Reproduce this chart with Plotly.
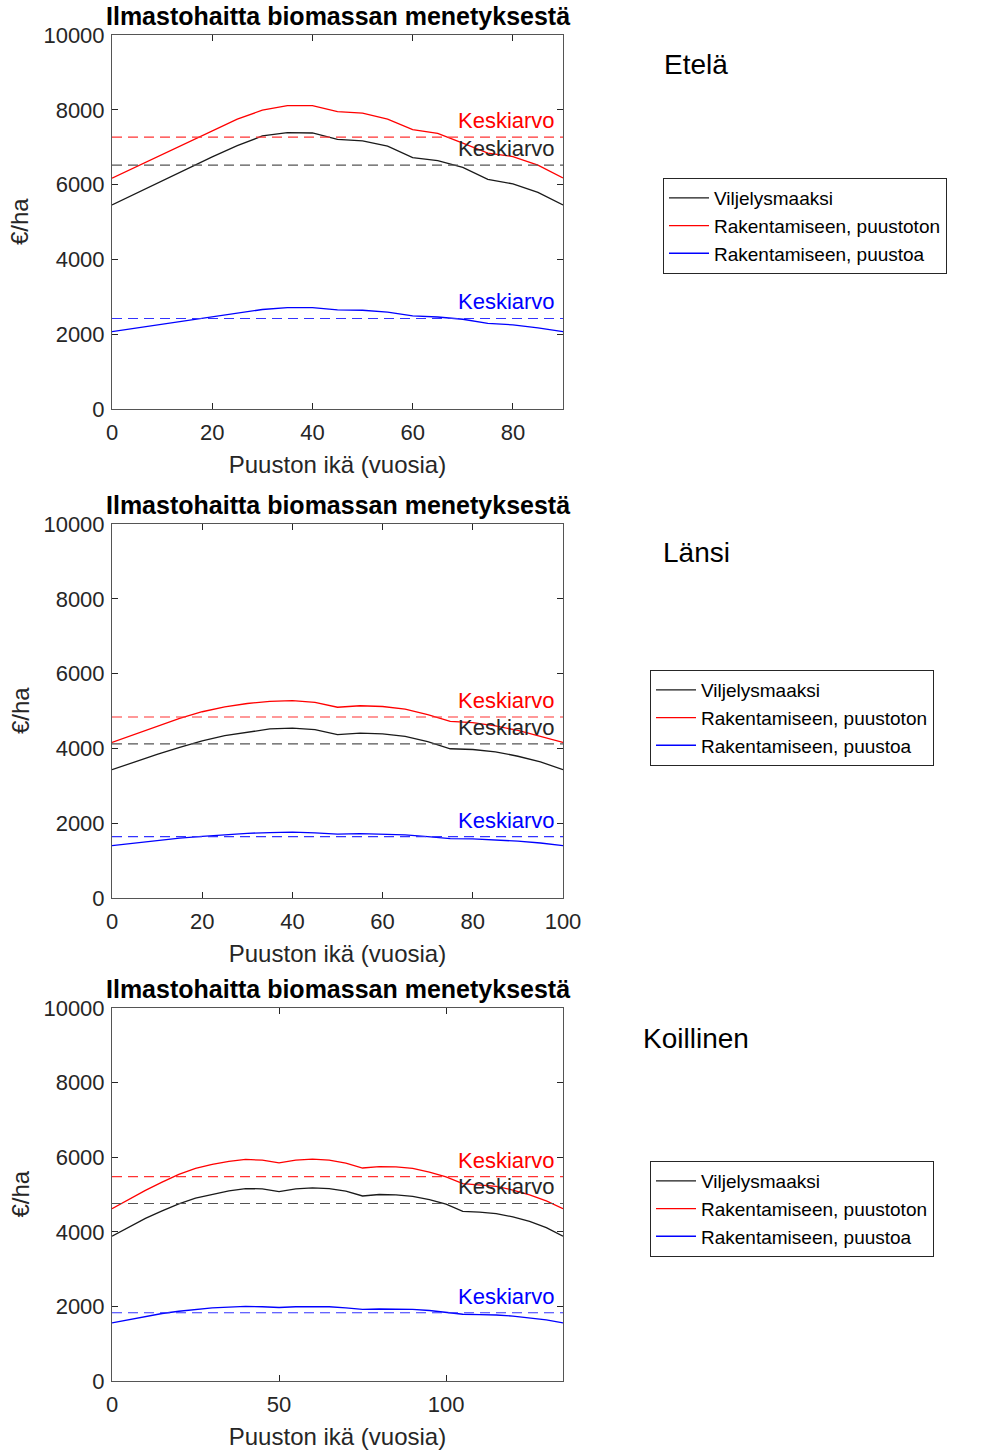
import plotly.graph_objects as go

# ---------------- data ----------------
title_text = "Ilmastohaitta biomassan menetyksestä"
regions = ["Etelä", "Länsi", "Koillinen"]
series_names = ["Viljelysmaaksi", "Rakentamiseen, puustoton", "Rakentamiseen, puustoa"]
mean_label = "Keskiarvo"
x_title = "Puuston ikä (vuosia)"
y_title = "€/ha"

# Etelä
age_etela = [0, 5, 10, 15, 20, 25, 30, 35, 40, 45, 50, 55, 60, 65, 70, 75, 80, 85, 90]
viljely_etela = [5455, 5780, 6100, 6420, 6740, 7040, 7300, 7390, 7380, 7210, 7170, 7030,
                 6720, 6640, 6460, 6140, 6020, 5790, 5455]
puustoton_etela = [6170, 6490, 6810, 7130, 7450, 7750, 7990, 8110, 8110, 7950, 7910, 7750,
                   7470, 7370, 7110, 6840, 6750, 6520, 6180]
puustoa_etela = [2070, 2170, 2270, 2370, 2470, 2560, 2660, 2710, 2710, 2650, 2640, 2590,
                 2490, 2460, 2400, 2290, 2250, 2170, 2070]
mean_etela = [6520, 7270, 2420]

# Länsi
age_lansi = [0, 5, 10, 15, 20, 25, 30, 35, 40, 45, 50, 55, 60, 65, 70, 75, 80, 85, 90, 95, 100]
viljely_lansi = [3430, 3640, 3840, 4030, 4200, 4340, 4440, 4520, 4540, 4500, 4370, 4410,
                 4390, 4320, 4180, 3990, 3970, 3910, 3790, 3640, 3430]
puustoton_lansi = [4160, 4380, 4600, 4800, 4980, 5110, 5200, 5260, 5280, 5230, 5100, 5140,
                   5120, 5050, 4900, 4720, 4690, 4600, 4480, 4330, 4160]
puustoa_lansi = [1400, 1470, 1540, 1600, 1650, 1700, 1730, 1750, 1760, 1740, 1710, 1720,
                 1710, 1690, 1640, 1590, 1580, 1560, 1520, 1470, 1400]
mean_lansi = [4120, 4840, 1640]

# Koillinen
age_koillinen = [0, 5, 10, 15, 20, 25, 30, 35, 40, 45, 50, 55, 60, 65, 70, 75, 80, 85, 90,
                 95, 100, 105, 110, 115, 120, 125, 130, 135]
viljely_koillinen = [3880, 4120, 4360, 4560, 4750, 4900, 5010, 5100, 5160, 5150, 5080, 5150,
                     5180, 5160, 5090, 4960, 5000, 4990, 4950, 4860, 4740, 4550, 4530, 4490,
                     4400, 4280, 4110, 3880]
puustoton_koillinen = [4620, 4870, 5110, 5330, 5540, 5700, 5810, 5890, 5940, 5920, 5850, 5920,
                       5950, 5920, 5840, 5710, 5750, 5740, 5700, 5600, 5470, 5290, 5260, 5220,
                       5120, 4990, 4830, 4620]
puustoa_koillinen = [1560, 1650, 1730, 1810, 1870, 1920, 1960, 1980, 2000, 1990, 1970, 1990,
                     2000, 1990, 1960, 1920, 1930, 1930, 1920, 1890, 1850, 1790, 1780, 1770,
                     1740, 1700, 1640, 1560]
mean_koillinen = [4760, 5480, 1830]

x_ticks = [[0, 20, 40, 60, 80], [0, 20, 40, 60, 80, 100], [0, 50, 100]]
y_ticks = [0, 2000, 4000, 6000, 8000, 10000]
y_tick_labels = ["0", "2000", "4000", "6000", "8000", "10000"]

# ---------------- style ----------------
FONT = "Liberation Sans, Arial, sans-serif"
AX = "#262626"
colors = ["#1a1a1a", "#ff0000", "#0000ff"]
mean_colors = ["#555555", "#ff3333", "#3333ff"]
text_colors = ["#262626", "#ff0000", "#0000ff"]

W, H = 982, 1454
x_dom = [112 / W, 563 / W]
y_doms = [
    [(H - 409) / H, (H - 35) / H],
    [(H - 898) / H, (H - 524) / H],
    [(H - 1381) / H, (H - 1008) / H],
]
legend_pos = [(663 / W, 1 - 178 / H), (650 / W, 1 - 670 / H), (650 / W, 1 - 1161 / H)]
region_pos = [(696, 64), (696, 552), (696, 1038)]

panels = [
    (age_etela, [viljely_etela, puustoton_etela, puustoa_etela], mean_etela),
    (age_lansi, [viljely_lansi, puustoton_lansi, puustoa_lansi], mean_lansi),
    (age_koillinen, [viljely_koillinen, puustoton_koillinen, puustoa_koillinen], mean_koillinen),
]

fig = go.Figure()
annotations = []
layout_upd = {}

for p, (ages, series, means) in enumerate(panels):
    sfx = "" if p == 0 else str(p + 1)
    xa, ya = "x" + sfx, "y" + sfx
    leg = "legend" + sfx
    xmax = ages[-1]
    for s in range(3):
        fig.add_trace(go.Scatter(
            x=ages, y=series[s], mode="lines", name=series_names[s],
            line=dict(color=colors[s], width=1.3),
            xaxis=xa, yaxis=ya, legend=leg, showlegend=True))
    for s in range(3):
        fig.add_trace(go.Scatter(
            x=[ages[0], xmax], y=[means[s], means[s]], mode="lines",
            line=dict(color=mean_colors[s], width=1.1, dash="10px,6px"),
            xaxis=xa, yaxis=ya, showlegend=False, hoverinfo="skip"))
        annotations.append(dict(
            x=xmax, y=means[s], xref=xa, yref=ya, text=mean_label,
            xanchor="right", yanchor="bottom", xshift=-6, yshift=2, showarrow=False,
            font=dict(family=FONT, size=22, color=text_colors[s])))

    layout_upd["xaxis" + sfx] = dict(
        domain=x_dom, anchor=ya, range=[0, xmax], tickvals=x_ticks[p],
        ticks="inside", ticklen=6, tickcolor=AX, showline=True, linecolor="#555555",
        linewidth=1, mirror="ticks", showgrid=False, zeroline=False,
        ticklabelstandoff=4,
        tickfont=dict(family=FONT, size=22, color=AX),
        title=dict(text=x_title, standoff=11,
                   font=dict(family=FONT, size=24, color=AX)))
    layout_upd["yaxis" + sfx] = dict(
        domain=y_doms[p], anchor=xa, range=[0, 10000], tickvals=y_ticks,
        ticktext=y_tick_labels,
        ticks="inside", ticklen=6, tickcolor=AX, showline=True, linecolor="#555555",
        linewidth=1, mirror="ticks", showgrid=False, zeroline=False,
        ticklabelstandoff=2,
        tickfont=dict(family=FONT, size=22, color=AX))
    layout_upd[leg] = dict(
        x=legend_pos[p][0], y=legend_pos[p][1], xanchor="left", yanchor="top",
        xref="paper", yref="paper",
        bgcolor="white", bordercolor="#262626", borderwidth=1,
        font=dict(family=FONT, size=19, color="#000000"),
        tracegroupgap=0, itemwidth=40)

    # y-axis title (placed as rotated text)
    annotations.append(dict(
        x=20 / W, y=(y_doms[p][0] + y_doms[p][1]) / 2, xref="paper", yref="paper",
        text=y_title, textangle=-90, showarrow=False, xanchor="center", yanchor="middle",
        font=dict(family=FONT, size=24, color=AX)))
    # panel title
    annotations.append(dict(
        x=(x_dom[0] + x_dom[1]) / 2, y=y_doms[p][1], xref="paper", yref="paper",
        text="<b>" + title_text + "</b>", showarrow=False, xanchor="center",
        yanchor="bottom", yshift=3,
        font=dict(family=FONT, size=25, color="#000000")))
    # region label
    annotations.append(dict(
        x=region_pos[p][0] / W, y=1 - region_pos[p][1] / H, xref="paper", yref="paper",
        text=regions[p], showarrow=False, xanchor="center", yanchor="middle",
        font=dict(family=FONT, size=28, color="#000000")))

fig.update_layout(
    width=W, height=H,
    margin=dict(l=0, r=0, t=0, b=0, autoexpand=False),
    paper_bgcolor="white", plot_bgcolor="white",
    annotations=annotations,
    **layout_upd,
)

fig.write_html("out.html", config={"displayModeBar": False},
               post_script="document.body.style.margin='0px';")
